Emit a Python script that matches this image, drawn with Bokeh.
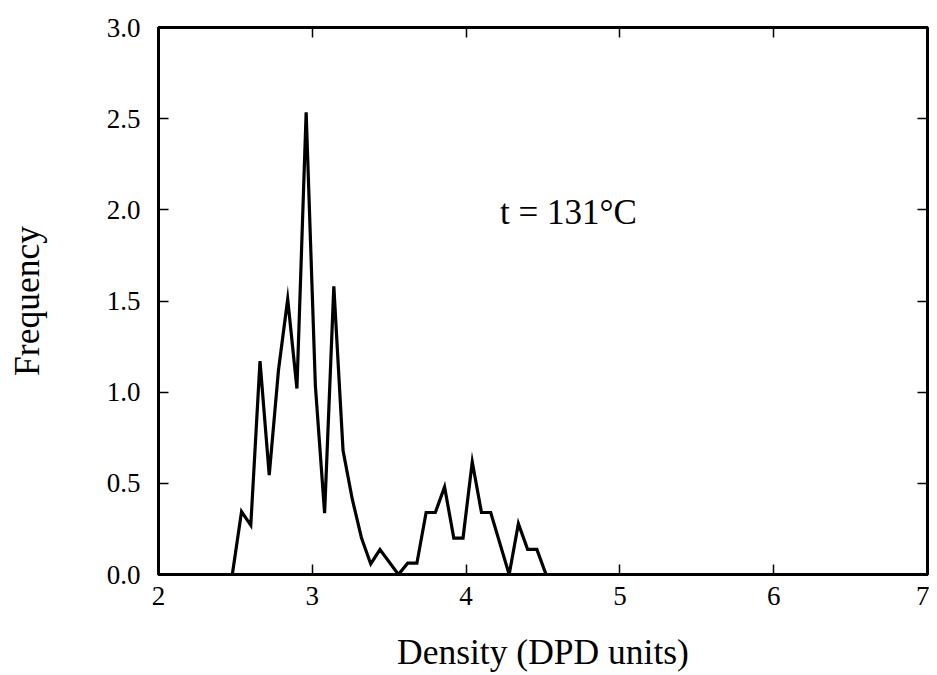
from bokeh.plotting import figure
from bokeh.models import (LinearAxis, FixedTicker, Range1d, ColumnDataSource,
                          CustomJSTickFormatter, CustomLabelingPolicy)
from bokeh.core.properties import value
from bokeh.embed import file_html
from bokeh.resources import INLINE

# Data
density = [2.00, 2.48, 2.54, 2.60, 2.66, 2.72, 2.78, 2.84, 2.90, 2.96, 3.02, 3.08,
           3.14, 3.20, 3.26, 3.32, 3.38, 3.44, 3.56, 3.62, 3.68, 3.74, 3.80, 3.86,
           3.92, 3.98, 4.04, 4.10, 4.16, 4.28, 4.34, 4.40, 4.46, 4.52, 7.00]
frequency = [0.0, 0.0, 0.345, 0.27, 1.17, 0.545, 1.12, 1.51, 1.02, 2.535, 1.035, 0.336,
             1.58, 0.68, 0.413, 0.20, 0.058, 0.137, 0.0, 0.062, 0.062, 0.34, 0.34, 0.48,
             0.20, 0.20, 0.618, 0.34, 0.34, 0.0, 0.279, 0.138, 0.138, 0.0, 0.0]
x_ticks = [2, 3, 4, 5, 6, 7]
y_ticks = [0.0, 0.5, 1.0, 1.5, 2.0, 2.5, 3.0]
annotation = "t = 131°C"
x_title = "Density (DPD units)"
y_title = "Frequency"

FONT = "Liberation Serif"

p = figure(width=929, frame_width=769, frame_height=547, height=667,
           output_backend="svg", toolbar_location=None,
           x_range=Range1d(2, 7), y_range=Range1d(0, 3),
           x_axis_location=None, y_axis_location=None,
           min_border_left=158, min_border_right=2, min_border_top=27, min_border_bottom=93)
p.grid.visible = False
p.outline_line_color = "black"
p.outline_line_width = 3
p.outline_line_alpha = 1.0
p.background_fill_color = "white"
p.border_fill_color = "white"

def style(ax, labels=True):
    ax.major_tick_in = 10
    ax.major_tick_out = 0
    ax.minor_tick_line_color = None
    ax.major_tick_line_color = "black"
    ax.major_tick_line_width = 1.5
    ax.axis_line_color = "black"
    ax.axis_line_width = 3
    if labels:
        ax.major_label_text_font = FONT
        ax.major_label_text_font_size = "27px"
        ax.major_label_text_color = "black"
        ax.axis_label_text_font = FONT
        ax.axis_label_text_font_size = "35.5px"
        ax.axis_label_text_font_style = "normal"
        ax.axis_label_text_color = "black"
    else:
        ax.major_label_standoff = 0
        ax.formatter = CustomJSTickFormatter(code="return '';")
        ax.major_label_policy = CustomLabelingPolicy(code="return new Set();")

bottom = LinearAxis(ticker=FixedTicker(ticks=x_ticks), axis_label=x_title)
style(bottom)
bottom.major_label_standoff = 12
bottom.axis_label_standoff = 24
p.add_layout(bottom, "below")

left = LinearAxis(ticker=FixedTicker(ticks=y_ticks), axis_label=y_title)
style(left)
left.major_label_standoff = 18
left.axis_label_standoff = 57
left.formatter = CustomJSTickFormatter(code="return tick.toFixed(1);")
p.add_layout(left, "left")

top = LinearAxis(ticker=FixedTicker(ticks=x_ticks))
style(top, labels=False)
p.add_layout(top, "above")

right = LinearAxis(ticker=FixedTicker(ticks=y_ticks))
style(right, labels=False)
p.add_layout(right, "right")

src = ColumnDataSource(dict(x=density, y=frequency))
p.line("x", "y", source=src, line_color="black", line_width=3.2, line_join="miter")

p.text(x=[4.22], y=[1.985], text=[annotation], text_font=value(FONT),
       text_font_size="35px", text_color="black", text_baseline="alphabetic",
       text_align="left")

open("out.html", "w").write(file_html(p, INLINE))
